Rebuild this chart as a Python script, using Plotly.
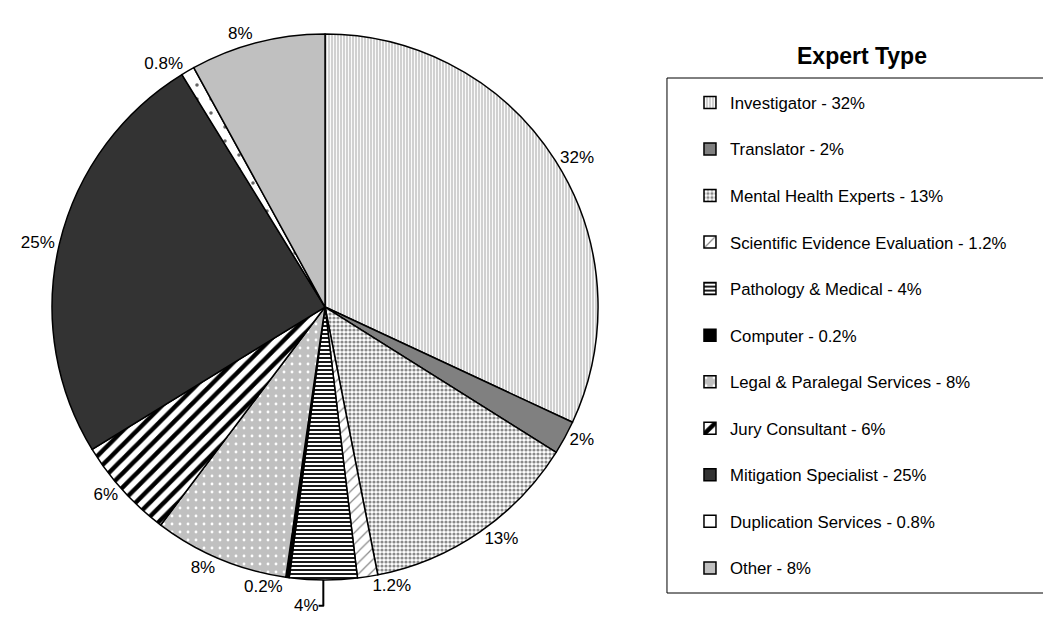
import plotly.graph_objects as go

categories = ["Investigator", "Translator", "Mental Health Experts", "Scientific Evidence Evaluation",
              "Pathology & Medical", "Computer", "Legal & Paralegal Services", "Jury Consultant",
              "Mitigation Specialist", "Duplication Services", "Other"]
values = [32, 2, 13, 1.2, 4, 0.2, 8, 6, 25, 0.8, 8]
value_labels = ["32%", "2%", "13%", "1.2%", "4%", "0.2%", "8%", "6%", "25%", "0.8%", "8%"]

fill_colors = ["#d0d0d0", "#808080", "#ffffff", "#ffffff", "#ffffff", "#000000",
               "#c0c0c0", "#ffffff", "#333333", "#ffffff", "#c0c0c0"]
pattern_shapes = ["|", "", ".", "/", "-", "", ".", "/", "", ".", ""]
pattern_fg = ["#ffffff", "#808080", "#8a8a8a", "#888888", "#000000", "#000000",
              "#ffffff", "#000000", "#333333", "#666666", "#c0c0c0"]
pattern_size = [3, 8, 4, 8, 4, 8, 8, 10, 8, 14, 8]
pattern_solidity = [0.3, 0.3, 0.5, 0.15, 0.45, 0.3, 0.1, 0.45, 0.3, 0.05, 0.3]

legend_labels = [f"{c} - {v}<br> " for c, v in zip(categories, value_labels)]

fig = go.Figure(go.Pie(
    labels=legend_labels,
    values=values,
    text=value_labels,
    texttemplate="%{text}",
    textposition="outside",
    textfont=dict(family="Liberation Sans, Arial", size=17, color="#000000"),
    sort=False,
    direction="clockwise",
    rotation=0,
    marker=dict(
        colors=fill_colors,
        line=dict(color="#000000", width=1.5),
        pattern=dict(shape=pattern_shapes, fgcolor=pattern_fg, bgcolor=fill_colors,
                     size=pattern_size, solidity=pattern_solidity, fillmode="overlay",
                     fgopacity=1),
    ),
    customdata=categories,
    hovertemplate="%{customdata}: %{text}<extra></extra>",
    domain=dict(x=[0.0419, 0.5614], y=[0.0833, 0.9583]),
))

fig.update_layout(
    width=1051, height=624,
    margin=dict(l=0, r=0, t=0, b=0),
    paper_bgcolor="#ffffff",
    font=dict(family="Liberation Sans, Arial", size=17, color="#000000"),
    legend=dict(
        x=0.627, y=0.8766, xanchor="left", yanchor="top",
        borderwidth=0,
        bgcolor="rgba(0,0,0,0)",
        font=dict(size=16.75),
        valign="top",
        indentation=23,
        tracegroupgap=0,
    ),
    shapes=[dict(type="rect", xref="paper", yref="paper", x0=0.6270, x1=0.9867, y0=0.0625, y1=0.8878,
                 line=dict(color="#000000", width=1), layer="below")],
    annotations=[dict(text="<b>Expert Type</b>", x=0.8126, y=0.9231, xref="paper", yref="paper",
                      showarrow=False, font=dict(size=23), xanchor="center", yanchor="middle")],
)

fig.write_html("out.html")
